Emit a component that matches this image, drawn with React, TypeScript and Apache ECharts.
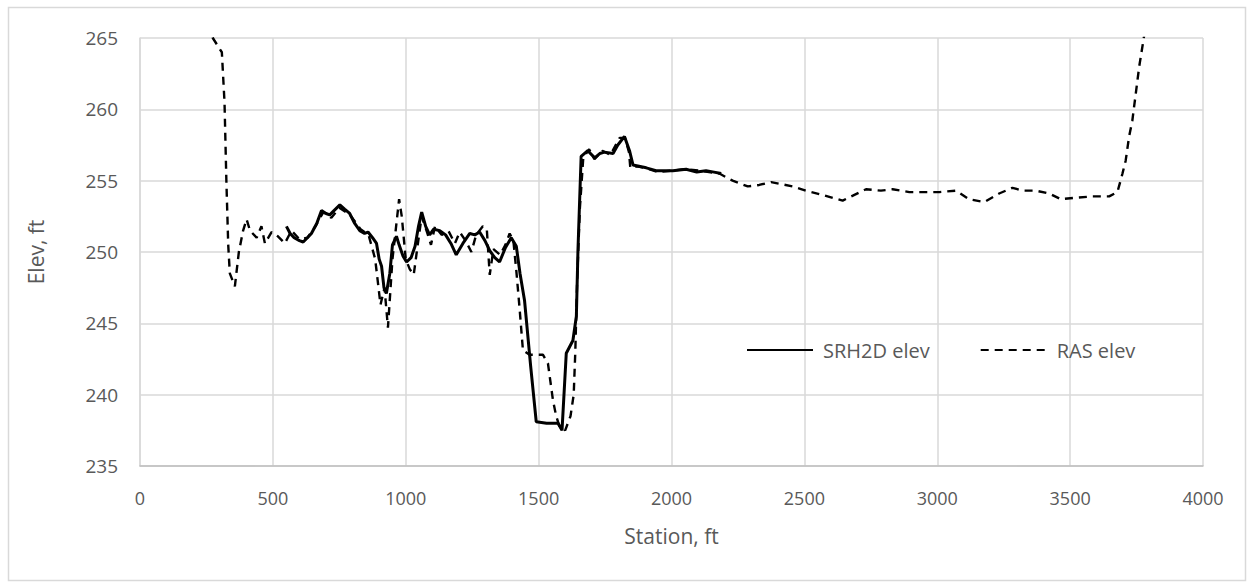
import React, { useEffect, useRef } from "react";
import * as echarts from "echarts";

// Station (ft) / elevation (ft) pairs for the two cross-section profiles
const srhStation = [
  551, 565, 580, 600, 614, 630, 645, 665, 683, 700, 714, 730, 752, 770, 789, 808, 827, 845, 858, 875,
  890, 900, 909, 918, 927, 940, 950, 965, 975, 990, 1003, 1020, 1035, 1048, 1060, 1075, 1090, 1105, 1128, 1150,
  1170, 1190, 1215, 1241, 1260, 1278, 1298, 1316, 1335, 1353, 1375, 1397, 1416, 1430, 1447, 1470, 1491, 1530, 1573, 1588,
  1604, 1629, 1642, 1648, 1655, 1660, 1685, 1711, 1730, 1748, 1780, 1798, 1823, 1842, 1855, 1905, 1942, 2005, 2055, 2095,
  2130, 2160, 2187,
];
const srhElev = [
  251.8, 251.3, 251.0, 250.8, 250.7, 251.0, 251.3, 252.0, 252.9, 252.7, 252.6, 252.9, 253.3, 253.0, 252.7, 252.0, 251.5, 251.3, 251.4, 251.0,
  250.6, 249.5, 249.0, 247.5, 247.1, 248.5, 250.5, 251.1, 250.5, 249.7, 249.3, 249.6, 250.4, 251.8, 252.8, 251.8, 251.2, 251.6, 251.5, 251.2,
  250.6, 249.8, 250.6, 251.3, 251.2, 251.4, 250.8, 250.1, 249.6, 249.3, 250.3, 251.0, 250.4, 248.5, 246.6, 242.0, 238.1, 238.0, 238.0, 237.5,
  242.9, 243.8, 245.5, 250.1, 254.0, 256.7, 257.1, 256.6, 256.9, 257.0, 256.9, 257.5, 258.1, 257.1, 256.1, 255.9, 255.7, 255.7, 255.8, 255.6,
  255.7, 255.6, 255.5,
];

const rasStation = [
  262, 274, 308, 318, 325, 332, 338, 357, 372, 388, 401, 414, 439, 457, 470, 495, 519, 545, 570, 600,
  630, 660, 690, 720, 750, 790, 830, 860, 885, 905, 920, 933, 950, 962, 975, 985, 1000, 1015, 1030, 1045,
  1060, 1080, 1095, 1110, 1135, 1160, 1185, 1203, 1225, 1247, 1265, 1290, 1305, 1316, 1330, 1355, 1375, 1391, 1405, 1416,
  1429, 1441, 1466, 1516, 1535, 1554, 1566, 1578, 1600, 1620, 1632, 1638, 1645, 1655, 1668, 1690, 1710, 1740, 1770, 1790,
  1805, 1825, 1840, 1845, 1870, 1900, 1950, 2000, 2050, 2105, 2180, 2230, 2287, 2330, 2375, 2456, 2506, 2569, 2644, 2732,
  2788, 2832, 2895, 2957, 3008, 3070, 3120, 3177, 3233, 3283, 3321, 3371, 3421, 3465, 3521, 3584, 3647, 3678, 3697, 3709,
  3722, 3734, 3760, 3790,
];
const rasElev = [
  266.0, 265.0, 264.0, 260.5, 255.0, 250.5, 248.5, 247.6, 250.0, 251.5, 252.3, 251.5, 251.0, 251.8, 250.6, 251.4, 251.1, 250.6, 251.5, 250.9,
  251.0, 251.8, 252.8, 252.4, 253.1, 252.6, 251.6, 251.2, 249.5, 246.3, 247.5, 244.7, 249.5, 251.5, 253.7, 252.5, 249.5, 248.8, 248.4, 250.5,
  252.5, 251.4, 250.5, 251.8, 251.2, 251.5, 250.6, 251.4, 250.8, 250.0, 251.2, 251.8, 251.6, 248.4, 250.2, 249.8, 250.5, 251.3, 250.8, 248.7,
  245.9, 243.1, 242.8, 242.8, 242.2, 239.6, 238.5, 237.8, 237.5, 238.5, 240.0, 243.0, 248.0, 253.0, 256.6, 257.2, 256.5, 257.1, 256.8, 257.5,
  258.0, 258.0, 257.0, 255.9, 256.0, 255.9, 255.6, 255.7, 255.8, 255.7, 255.5, 255.0, 254.6, 254.7, 254.9, 254.6, 254.3, 254.0, 253.6, 254.4,
  254.3, 254.4, 254.2, 254.2, 254.2, 254.3, 253.7, 253.5, 254.1, 254.5, 254.3, 254.3, 254.1, 253.7, 253.8, 253.9, 253.9, 254.2, 255.5, 256.4,
  258.1, 259.2, 263.0, 266.5,
];

const xTicks = { min: 0, max: 4000, interval: 500 };
const yTicks = { min: 235, max: 265, interval: 5 };

const FONT = "'Open Sans', Lato, sans-serif";
const TEXT_GRAY = "#595959";
const GRID_GRAY = "#d9d9d9";

const pairs = (xs: number[], ys: number[]) => xs.map((x, i) => [x, ys[i]]);

export default function App() {
  const ref = useRef<HTMLDivElement>(null);

  useEffect(() => {
    if (!ref.current) return;
    const chart = echarts.init(ref.current, undefined, { renderer: "svg" });
    chart.setOption({
      animation: false,
      backgroundColor: "#ffffff",
      textStyle: { fontFamily: FONT },
      graphic: [
        {
          type: "rect",
          shape: { x: 8.5, y: 7.5, width: 1237, height: 573 },
          style: { fill: "none", stroke: GRID_GRAY, lineWidth: 1.5 },
          silent: true,
        },
      ],
      grid: { left: 140, right: 49, top: 38, bottom: 118, containLabel: false },
      legend: {
        left: 746,
        top: 340,
        padding: 0,
        itemWidth: 66,
        itemHeight: 14,
        itemGap: 50,
        itemStyle: { opacity: 0 },
        textStyle: { color: TEXT_GRAY, fontSize: 20, fontFamily: FONT, padding: [0, 0, 0, 5] },
        data: ["SRH2D elev", "RAS elev"],
      },
      xAxis: {
        type: "value",
        min: xTicks.min,
        max: xTicks.max,
        interval: xTicks.interval,
        name: "Station, ft",
        nameLocation: "middle",
        nameGap: 59,
        nameTextStyle: { color: TEXT_GRAY, fontSize: 21, fontFamily: FONT },
        axisLine: { show: true, lineStyle: { color: "#bfbfbf", width: 1.5 } },
        axisTick: { show: false },
        axisLabel: {
          color: TEXT_GRAY,
          fontSize: 18,
          fontFamily: FONT,
          margin: 23,
          formatter: (v: number) => String(v),
        },
        splitLine: { show: true, lineStyle: { color: GRID_GRAY, width: 1.5 } },
      },
      yAxis: {
        type: "value",
        min: yTicks.min,
        max: yTicks.max,
        interval: yTicks.interval,
        name: "Elev, ft",
        nameLocation: "middle",
        nameRotate: 90,
        nameGap: 94,
        nameTextStyle: { color: TEXT_GRAY, fontSize: 21, fontFamily: FONT },
        axisLine: { show: true, lineStyle: { color: GRID_GRAY, width: 1.5 } },
        axisTick: { show: false },
        axisLabel: { color: TEXT_GRAY, fontSize: 19, fontFamily: FONT, margin: 22 },
        splitLine: { show: true, lineStyle: { color: GRID_GRAY, width: 1.5 } },
      },
      series: [
        {
          name: "SRH2D elev",
          type: "line",
          data: pairs(srhStation, srhElev),
          showSymbol: false,
          symbol: "none",
          clip: true,
          color: "#000000",
          lineStyle: { color: "#000000", width: 3 },
        },
        {
          name: "RAS elev",
          type: "line",
          data: pairs(rasStation, rasElev),
          showSymbol: false,
          symbol: "none",
          clip: true,
          color: "#000000",
          lineStyle: { color: "#000000", width: 2.4, type: [8, 6] },
        },
      ],
    });
    return () => chart.dispose();
  }, []);

  return (
    <div
      ref={ref}
      style={{ position: "fixed", left: 0, top: 0, width: 1252, height: 584, background: "#fff" }}
    />
  );
}
